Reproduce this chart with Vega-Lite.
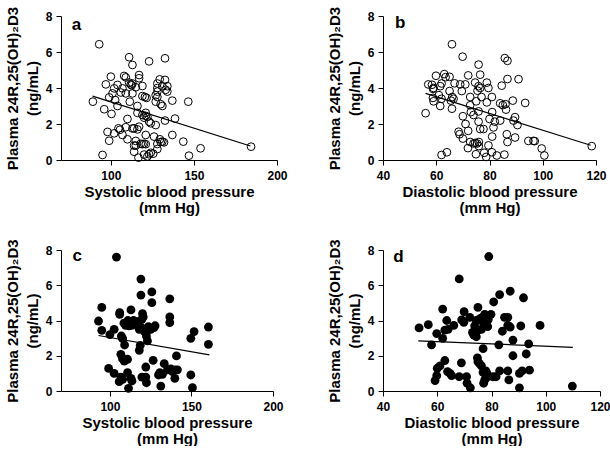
{
  "$schema": "https://vega.github.io/schema/vega-lite/v6.json",
  "background": "white",
  "padding": {"left": 5, "top": 6, "right": 0, "bottom": 0},
  "datasets": {
    "a": [
      {"x":93,"y":6.43},{"x":111,"y":5.71},{"x":113,"y":5.28},{"x":123,"y":5.48},{"x":132.6,"y":5.65},
      {"x":100,"y":4.63},{"x":108,"y":4.67},{"x":109,"y":4.59},{"x":117,"y":4.72},{"x":117,"y":4.54},{"x":129.4,"y":4.48},{"x":132.6,"y":4.45},
      {"x":97,"y":4.2},{"x":104,"y":4.17},{"x":111,"y":4.3},{"x":112,"y":4.2},{"x":113,"y":4.25},{"x":112.5,"y":4.15},{"x":119,"y":4.11},
      {"x":128,"y":4.25},{"x":128,"y":4.0},{"x":131,"y":4.1},{"x":134,"y":4.1},{"x":133,"y":3.9},{"x":128,"y":3.8},{"x":134,"y":3.8},
      {"x":102,"y":3.98},{"x":107,"y":3.98},{"x":115,"y":4.04},{"x":101,"y":3.7},{"x":106,"y":3.75},{"x":109,"y":3.7},{"x":113,"y":3.7},{"x":127,"y":3.6},{"x":128,"y":3.5},
      {"x":89.2,"y":3.24},{"x":99,"y":3.48},{"x":102.6,"y":3.33},{"x":104,"y":3.0},{"x":111.4,"y":3.24},{"x":119,"y":3.55},{"x":120.5,"y":3.5},{"x":121.5,"y":3.45},{"x":116,"y":3.0},{"x":127,"y":3.24},{"x":130,"y":3.1},{"x":131,"y":3.0},{"x":137,"y":3.3},{"x":146.6,"y":3.24},
      {"x":96,"y":2.82},{"x":100.4,"y":2.56},{"x":116,"y":2.62},{"x":121,"y":2.62},{"x":119,"y":2.5},{"x":121,"y":2.45},{"x":120,"y":2.35},{"x":122,"y":2.4},{"x":110,"y":2.28},{"x":123,"y":2.13},{"x":124,"y":2.04},{"x":127,"y":1.94},{"x":132.6,"y":2.19},{"x":138.6,"y":2.3},
      {"x":104.6,"y":1.76},{"x":105.5,"y":1.68},{"x":114,"y":1.76},{"x":116,"y":1.7},{"x":117,"y":1.85},{"x":113,"y":1.75},{"x":109,"y":1.82},
      {"x":98,"y":1.56},{"x":102,"y":1.48},{"x":107,"y":1.39},{"x":121,"y":1.39},{"x":126,"y":1.3},{"x":137,"y":1.39},
      {"x":110,"y":1.15},{"x":99,"y":1.07},{"x":115,"y":1.06},{"x":129.5,"y":1.15},{"x":131,"y":1.02},{"x":132,"y":0.98},{"x":130,"y":1.0},{"x":143.6,"y":1.02},
      {"x":118,"y":0.9},{"x":119,"y":0.88},{"x":120,"y":0.9},{"x":121,"y":0.88},{"x":114,"y":0.8},{"x":115,"y":0.8},{"x":128,"y":0.89},
      {"x":114,"y":0.46},{"x":95,"y":0.28},{"x":120,"y":0.3},{"x":123,"y":0.32},{"x":124,"y":0.4},{"x":125.5,"y":0.35},{"x":122,"y":0.2},{"x":116.6,"y":0.13},{"x":128,"y":0.61},{"x":147,"y":0.24},{"x":154,"y":0.65},{"x":184.4,"y":0.74}
    ],
    "aline": [{"x":89,"y":3.55},{"x":184,"y":0.78}],
    "b": [
      {"x":65.9,"y":6.43},{"x":69.9,"y":5.74},{"x":85.75,"y":5.66},{"x":86.75,"y":5.51},{"x":75.9,"y":5.3},
      {"x":59.9,"y":4.68},{"x":63,"y":4.77},{"x":63.5,"y":4.6},{"x":65,"y":4.62},{"x":72,"y":4.7},{"x":76.5,"y":4.74},{"x":86.75,"y":4.5},{"x":90.9,"y":4.49},
      {"x":57,"y":4.2},{"x":58.4,"y":4.18},{"x":59,"y":4.0},{"x":58.8,"y":3.95},{"x":61.5,"y":4.1},{"x":62,"y":4.25},{"x":66.9,"y":4.26},{"x":69,"y":4.2},{"x":70.9,"y":4.2},{"x":74.6,"y":4.3},{"x":75.9,"y":4.1},{"x":76.5,"y":4.0},{"x":75.5,"y":3.85},{"x":79,"y":4.3},{"x":79.6,"y":4.0},{"x":84.6,"y":4.13},
      {"x":69.6,"y":3.83},{"x":65,"y":3.83},{"x":61,"y":3.6},{"x":62,"y":3.4},{"x":58.75,"y":3.45},{"x":59,"y":3.26},{"x":66,"y":3.5},{"x":66.5,"y":3.4},{"x":65.5,"y":3.3},{"x":72.75,"y":3.5},{"x":77,"y":3.5},{"x":80.9,"y":3.5},
      {"x":61.5,"y":3.0},{"x":65.9,"y":2.85},{"x":72.75,"y":3.04},{"x":75,"y":3.26},{"x":79,"y":3.2},{"x":84,"y":3.15},{"x":85,"y":3.05},{"x":86,"y":3.1},{"x":86.2,"y":2.8},{"x":88.75,"y":3.3},{"x":93.4,"y":3.17},
      {"x":56,"y":2.6},{"x":73,"y":2.66},{"x":74,"y":2.5},{"x":70,"y":2.43},{"x":75.9,"y":2.7},{"x":81,"y":2.66},{"x":80,"y":2.28},{"x":82,"y":2.13},{"x":81.5,"y":1.81},{"x":84,"y":2.19},{"x":89,"y":2.19},{"x":89.6,"y":2.38},{"x":90.5,"y":1.94},
      {"x":71,"y":2.0},{"x":72,"y":1.62},{"x":75.9,"y":2.13},{"x":68.4,"y":1.57},{"x":68.75,"y":1.43},{"x":76.5,"y":1.72},{"x":77.75,"y":1.72},{"x":81,"y":1.3},{"x":86.5,"y":1.43},{"x":89.6,"y":1.25},{"x":94.6,"y":1.06},{"x":96.5,"y":1.06},{"x":97,"y":1.05},
      {"x":86.75,"y":1.0},{"x":70,"y":1.19},{"x":72.75,"y":1.0},{"x":74,"y":0.92},{"x":74.6,"y":0.95},{"x":75.3,"y":0.92},{"x":76,"y":1.0},{"x":76,"y":0.77},{"x":71.9,"y":0.66},{"x":79.6,"y":0.81},{"x":99.6,"y":0.64},
      {"x":62,"y":0.28},{"x":64,"y":0.43},{"x":74.9,"y":0.32},{"x":78,"y":0.4},{"x":80.9,"y":0.43},{"x":78.75,"y":0.17},{"x":82.75,"y":0.25},{"x":85.6,"y":0.3},{"x":100.6,"y":0.25},{"x":118.4,"y":0.77}
    ],
    "bline": [{"x":56,"y":3.7},{"x":118,"y":0.82}],
    "c": [
      {"x":104,"y":7.6},{"x":119,"y":6.35},{"x":125.7,"y":5.62},{"x":119,"y":5.44},{"x":125.7,"y":5.01},{"x":136.7,"y":5.23},
      {"x":95,"y":4.74},{"x":106,"y":4.45},{"x":106,"y":4.35},{"x":112.9,"y":4.6},{"x":120,"y":4.39},{"x":120.4,"y":4.2},{"x":119.6,"y":4.07},{"x":136.7,"y":4.2},{"x":136.7,"y":3.88},
      {"x":93,"y":3.97},{"x":108.6,"y":3.85},{"x":109.6,"y":3.73},{"x":111,"y":4.0},{"x":111.7,"y":3.7},{"x":112.4,"y":3.93},{"x":113.4,"y":3.73},{"x":114.5,"y":4.0},{"x":116,"y":3.95},{"x":116.6,"y":3.78},{"x":117.6,"y":3.65},
      {"x":119,"y":3.62},{"x":118,"y":3.5},{"x":121,"y":3.4},{"x":122,"y":3.35},{"x":123.6,"y":3.65},{"x":124,"y":3.5},{"x":125,"y":3.5},{"x":127,"y":3.6},{"x":127.7,"y":3.7},
      {"x":95,"y":3.44},{"x":102.6,"y":3.5},{"x":100,"y":3.2},{"x":107,"y":3.12},{"x":107.8,"y":2.97},{"x":122.4,"y":3.12},{"x":123,"y":2.84},{"x":109,"y":2.61},{"x":118.6,"y":2.59},{"x":118,"y":2.31},{"x":149.6,"y":2.99},{"x":151.6,"y":3.37},{"x":160.4,"y":3.63},{"x":160.4,"y":2.65},
      {"x":106.7,"y":2.08},{"x":107.7,"y":1.83},{"x":108.8,"y":1.7},{"x":110.8,"y":1.8},{"x":140.8,"y":1.99},{"x":126.5,"y":1.74},{"x":133.3,"y":1.55},{"x":122,"y":1.36},{"x":99.2,"y":1.28},{"x":102.6,"y":1.0},{"x":110.8,"y":1.04},
      {"x":106.7,"y":0.79},{"x":107.8,"y":0.66},{"x":105.7,"y":0.53},{"x":112.9,"y":0.72},{"x":113.5,"y":0.57},{"x":119.6,"y":0.79},{"x":122,"y":0.79},{"x":122.4,"y":0.47},
      {"x":130.6,"y":1.04},{"x":129.8,"y":0.91},{"x":132.2,"y":0.95},{"x":135.3,"y":1.2},{"x":137.3,"y":1.25},{"x":139.9,"y":1.2},{"x":138.4,"y":1.1},{"x":141.4,"y":1.2},{"x":139.8,"y":0.72},{"x":131.2,"y":0.28},{"x":149.6,"y":0.91},{"x":150.6,"y":0.19},{"x":111.4,"y":0.15}
    ],
    "cline": [{"x":93,"y":3.15},{"x":161,"y":2.05}],
    "d": [
      {"x":79,"y":7.63},{"x":68.1,"y":6.36},{"x":86.9,"y":5.66},{"x":83,"y":5.47},{"x":91.8,"y":5.29},{"x":80.8,"y":5.05},{"x":75,"y":4.74},{"x":62,"y":4.65},{"x":69.9,"y":4.5},
      {"x":77.5,"y":4.35},{"x":78,"y":4.2},{"x":79.8,"y":4.35},{"x":78.8,"y":4.05},{"x":84.8,"y":4.18},{"x":86,"y":4.18},{"x":72,"y":4.18},{"x":63.5,"y":4.0},{"x":69,"y":4.04},{"x":69.8,"y":3.9},{"x":74.4,"y":4.0},{"x":75.6,"y":4.09},{"x":76.6,"y":4.18},{"x":76.9,"y":3.9},
      {"x":56.7,"y":3.76},{"x":53.3,"y":3.58},{"x":66.1,"y":3.72},{"x":62.8,"y":3.45},{"x":64,"y":3.5},{"x":73.8,"y":3.7},{"x":74.2,"y":3.5},{"x":75,"y":3.45},{"x":76.3,"y":3.5},{"x":78,"y":3.76},{"x":78.6,"y":3.65},{"x":86,"y":3.72},{"x":86.9,"y":3.63},{"x":90.8,"y":3.69},{"x":97.9,"y":3.72},
      {"x":59.8,"y":3.26},{"x":73,"y":3.32},{"x":73.5,"y":3.17},{"x":74.4,"y":3.08},{"x":84,"y":3.39},{"x":62,"y":2.99},{"x":87.9,"y":2.89},{"x":57.9,"y":2.62},{"x":82.7,"y":2.62},{"x":93.7,"y":2.67},{"x":76.9,"y":2.4},{"x":87.9,"y":2.0},{"x":92.8,"y":2.1},
      {"x":62.8,"y":1.73},{"x":68.9,"y":1.6},{"x":74.8,"y":1.88},{"x":75,"y":1.66},{"x":75.6,"y":1.55},{"x":76.3,"y":1.42},{"x":60,"y":1.29},{"x":61,"y":1.42},{"x":63.8,"y":1.1},{"x":64.7,"y":1.0},{"x":59.8,"y":0.87},{"x":65.3,"y":0.87},{"x":59.2,"y":0.59},{"x":68.1,"y":0.81},{"x":70.8,"y":0.81},{"x":71,"y":0.44},{"x":72.2,"y":0.18},
      {"x":76.9,"y":1.05},{"x":77.9,"y":1.14},{"x":78.3,"y":1.0},{"x":78.7,"y":0.81},{"x":77.5,"y":0.63},{"x":77.1,"y":0.44},{"x":80.5,"y":0.81},{"x":81.7,"y":0.81},{"x":83,"y":1.14},{"x":86,"y":1.14},{"x":86.4,"y":0.63},{"x":90.3,"y":1.0},{"x":91.3,"y":1.14},{"x":94,"y":1.18},{"x":90.3,"y":0.18},{"x":109.8,"y":0.28}
    ],
    "dline": [{"x":53,"y":2.84},{"x":110,"y":2.48}]
  },
  "vconcat": [
    {
      "spacing": 39,
      "hconcat": [
        {
          "width": 216, "height": 144,
          "layer": [
            {"data": {"name": "a"},
             "mark": {"type": "point", "shape": "circle", "filled": false, "stroke": "black", "strokeWidth": 1, "size": 60, "opacity": 1},
             "encoding": {
               "x": {"field": "x", "type": "quantitative", "scale": {"domain": [70, 200], "nice": false, "zero": false}, "axis": {"values": [100, 150, 200], "labelOverlap": false, "title": ["Systolic blood pressure", "(mm Hg)"]}},
               "y": {"field": "y", "type": "quantitative", "scale": {"domain": [0, 8], "nice": false}, "axis": {"values": [0, 2, 4, 6, 8], "tickCount": 5, "labelOverlap": false, "title": ["Plasma 24R,25(OH)₂D3", "(ng/mL)"]}}
             }},
            {"data": {"name": "aline"}, "mark": {"type": "line", "color": "black", "strokeWidth": 1.2},
             "encoding": {"x": {"field": "x", "type": "quantitative"}, "y": {"field": "y", "type": "quantitative"}}},
            {"data": {"values": [{"panel": "a"}]}, "mark": {"type": "text", "align": "left", "baseline": "middle", "fontSize": 17, "fontWeight": "bold", "color": "black"},
             "encoding": {"x": {"datum": 76.5}, "y": {"datum": 7.5}, "text": {"field": "panel"}}}
          ]
        },
        {
          "width": 213, "height": 144,
          "layer": [
            {"data": {"name": "b"},
             "mark": {"type": "point", "shape": "circle", "filled": false, "stroke": "black", "strokeWidth": 1, "size": 60, "opacity": 1},
             "encoding": {
               "x": {"field": "x", "type": "quantitative", "scale": {"domain": [40, 120], "nice": false, "zero": false}, "axis": {"values": [40, 60, 80, 100, 120], "labelOverlap": false, "title": ["Diastolic blood pressure", "(mm Hg)"]}},
               "y": {"field": "y", "type": "quantitative", "scale": {"domain": [0, 8], "nice": false}, "axis": {"values": [0, 2, 4, 6, 8], "tickCount": 5, "labelOverlap": false, "title": ["Plasma 24R,25(OH)₂D3", "(ng/mL)"]}}
             }},
            {"data": {"name": "bline"}, "mark": {"type": "line", "color": "black", "strokeWidth": 1.2},
             "encoding": {"x": {"field": "x", "type": "quantitative"}, "y": {"field": "y", "type": "quantitative"}}},
            {"data": {"values": [{"panel": "b"}]}, "mark": {"type": "text", "align": "left", "baseline": "middle", "fontSize": 17, "fontWeight": "bold", "color": "black"},
             "encoding": {"x": {"datum": 44.5}, "y": {"datum": 7.6}, "text": {"field": "panel"}}}
          ]
        }
      ]
    },
    {
      "spacing": 43,
      "hconcat": [
        {
          "width": 212, "height": 141,
          "layer": [
            {"data": {"name": "c"},
             "mark": {"type": "point", "shape": "circle", "filled": true, "color": "black", "size": 78, "opacity": 1},
             "encoding": {
               "x": {"field": "x", "type": "quantitative", "scale": {"domain": [70, 200], "nice": false, "zero": false}, "axis": {"values": [100, 150, 200], "labelOverlap": false, "title": ["Systolic blood pressure", "(mm Hg)"]}},
               "y": {"field": "y", "type": "quantitative", "scale": {"domain": [0, 8], "nice": false}, "axis": {"values": [0, 2, 4, 6, 8], "tickCount": 5, "labelOverlap": false, "title": ["Plasma 24R,25(OH)₂D3", "(ng/mL)"]}}
             }},
            {"data": {"name": "cline"}, "mark": {"type": "line", "color": "black", "strokeWidth": 1.2},
             "encoding": {"x": {"field": "x", "type": "quantitative"}, "y": {"field": "y", "type": "quantitative"}}},
            {"data": {"values": [{"panel": "c"}]}, "mark": {"type": "text", "align": "left", "baseline": "middle", "fontSize": 17, "fontWeight": "bold", "color": "black"},
             "encoding": {"x": {"datum": 77}, "y": {"datum": 7.65}, "text": {"field": "panel"}}}
          ]
        },
        {
          "width": 217, "height": 141,
          "layer": [
            {"data": {"name": "d"},
             "mark": {"type": "point", "shape": "circle", "filled": true, "color": "black", "size": 78, "opacity": 1},
             "encoding": {
               "x": {"field": "x", "type": "quantitative", "scale": {"domain": [40, 120], "nice": false, "zero": false}, "axis": {"values": [40, 60, 80, 100, 120], "labelOverlap": false, "title": ["Diastolic blood pressure", "(mm Hg)"]}},
               "y": {"field": "y", "type": "quantitative", "scale": {"domain": [0, 8], "nice": false}, "axis": {"values": [0, 2, 4, 6, 8], "tickCount": 5, "labelOverlap": false, "title": ["Plasma 24R,25(OH)₂D3", "(ng/mL)"]}}
             }},
            {"data": {"name": "dline"}, "mark": {"type": "line", "color": "black", "strokeWidth": 1.2},
             "encoding": {"x": {"field": "x", "type": "quantitative"}, "y": {"field": "y", "type": "quantitative"}}},
            {"data": {"values": [{"panel": "d"}]}, "mark": {"type": "text", "align": "left", "baseline": "middle", "fontSize": 17, "fontWeight": "bold", "color": "black"},
             "encoding": {"x": {"datum": 43.8}, "y": {"datum": 7.6}, "text": {"field": "panel"}}}
          ]
        }
      ]
    }
  ],
  "spacing": 23,
  "config": {
    "font": "Liberation Sans",
    "view": {"stroke": null},
    "axis": {
      "grid": false,
      "labelOverlap": false,
      "domainColor": "black", "domainWidth": 1,
      "tickColor": "black", "tickWidth": 1, "tickSize": 5,
      "labelColor": "black", "labelFont": "Liberation Sans", "labelFontSize": 12, "labelFontWeight": "bold",
      "titleColor": "black", "titleFont": "Liberation Sans", "titleFontSize": 15, "titleFontWeight": "bold"
    },
    "axisX": {"labelPadding": 5, "labelFlush": false, "titlePadding": 3, "titleLineHeight": 16},
    "axisY": {"labelPadding": 4, "labelOverlap": false, "titlePadding": 5, "titleLineHeight": 20}
  }
}
